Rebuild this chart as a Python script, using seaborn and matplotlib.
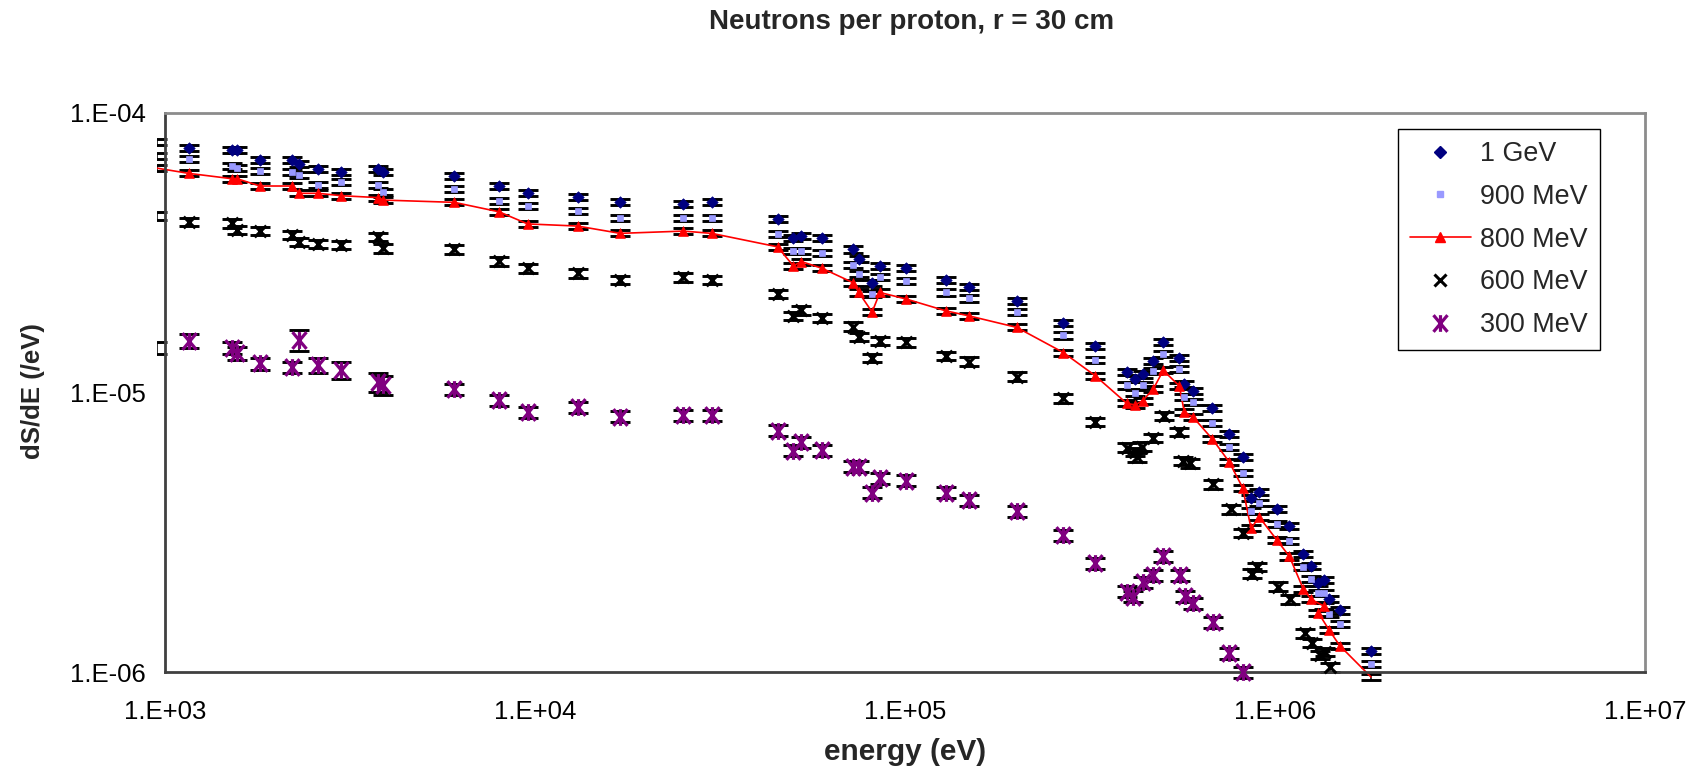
import matplotlib
matplotlib.use("Agg")
import matplotlib.pyplot as plt
from matplotlib.lines import Line2D
from matplotlib.path import Path
from matplotlib.patches import Rectangle
from matplotlib.ticker import NullLocator
import numpy as np
import seaborn as sns

# ---------------------------------------------------------------------------
# Neutron spectra (dS/dE per proton) at r = 30 cm, energies in eV
# ---------------------------------------------------------------------------
energy_main = [950, 1161, 1516, 1566, 1806, 2198, 2306, 2594, 2993, 3772, 3893,
               6050, 8000, 9550, 13030, 16990, 25180, 30030, 45240, 49890, 52500,
               59770, 72440, 74990, 81500, 85530, 100700, 128800, 148900, 200400,
               267900, 326200,
               397300, 418400, 439000, 469000, 499000, 551400, 568800, 599200,
               676900, 752300, 817800,
               861200, 907100, 1011000, 1094000, 1193000, 1251000, 1357000,
               1309000, 1402000, 1498000, 1817000]

gev1 = [7.9e-5, 7.51e-5, 7.37e-5, 7.37e-5, 6.79e-5, 6.79e-5, 6.57e-5, 6.29e-5,
        6.17e-5, 6.30e-5, 6.17e-5, 5.95e-5, 5.50e-5, 5.19e-5, 4.99e-5, 4.79e-5,
        4.71e-5, 4.79e-5, 4.18e-5, 3.58e-5, 3.64e-5, 3.58e-5, 3.25e-5, 3.00e-5,
        2.47e-5, 2.84e-5, 2.78e-5, 2.53e-5, 2.38e-5, 2.13e-5, 1.78e-5, 1.47e-5,
        1.18e-5, 1.115e-5, 1.16e-5, 1.30e-5, 1.52e-5, 1.33e-5, 1.07e-5, 1.01e-5,
        8.82e-6, 7.10e-6, 5.86e-6,
        4.19e-6, 4.42e-6, 3.82e-6, 3.34e-6, 2.64e-6, 2.40e-6, 2.13e-6, 2.09e-6,
        1.82e-6, 1.66e-6, 1.19e-6]

mev900 = [7.0e-5, 6.85e-5, 6.47e-5, 6.34e-5, 6.22e-5, 6.14e-5, 5.98e-5, 5.53e-5,
          5.68e-5, 5.53e-5, 5.23e-5, 5.33e-5, 4.84e-5, 4.65e-5, 4.47e-5, 4.22e-5,
          4.22e-5, 4.22e-5, 3.68e-5, 3.22e-5, 3.22e-5, 3.15e-5, 2.86e-5, 2.65e-5,
          2.26e-5, 2.60e-5, 2.51e-5, 2.28e-5, 2.17e-5, 1.94e-5, 1.60e-5, 1.31e-5,
          1.06e-5, 1.00e-5, 1.06e-5, 1.19e-5, 1.37e-5, 1.21e-5, 9.61e-6, 9.25e-6,
          7.80e-6, 6.40e-6, 5.16e-6,
          3.77e-6, 4.01e-6, 3.38e-6, 2.94e-6, 2.38e-6, 2.15e-6, 1.92e-6, 1.92e-6,
          1.61e-6, 1.49e-6, 1.07e-6]

mev800 = [6.35e-5, 6.08e-5, 5.82e-5, 5.82e-5, 5.48e-5, 5.48e-5, 5.16e-5, 5.16e-5,
          5.06e-5, 4.98e-5, 4.88e-5, 4.79e-5, 4.43e-5, 4.01e-5, 3.94e-5, 3.71e-5,
          3.78e-5, 3.71e-5, 3.32e-5, 2.84e-5, 2.94e-5, 2.78e-5, 2.47e-5, 2.28e-5,
          1.94e-5, 2.28e-5, 2.16e-5, 1.96e-5, 1.88e-5, 1.71e-5, 1.39e-5, 1.15e-5,
          9.15e-6, 9.02e-6, 9.35e-6, 1.03e-5, 1.20e-5, 1.055e-5, 8.50e-6, 8.19e-6,
          6.82e-6, 5.64e-6, 4.56e-6,
          3.27e-6, 3.58e-6, 2.97e-6, 2.59e-6, 1.98e-6, 1.82e-6, 1.72e-6, 1.63e-6,
          1.41e-6, 1.24e-6, 9.6e-7]

energy_600 = [950, 1161, 1516, 1566, 1806, 2198, 2306, 2594, 2993, 3772, 3893,
              6050, 8000, 9550, 13030, 16990, 25180, 30030, 45240, 49890, 52500,
              59770, 72440, 74990, 81500, 85530, 100700, 128800, 148900, 200400,
              267900, 326200,
              397300, 418400, 423600, 436300, 469000, 501200, 551400, 565200,
              589300, 677900, 759000, 820900, 865000, 892400, 1021000, 1098000,
              1205000, 1257000, 1323000, 1365000, 1408000]

mev600 = [4.28e-5, 4.08e-5, 4.03e-5, 3.81e-5, 3.79e-5, 3.66e-5, 3.46e-5, 3.40e-5,
          3.37e-5, 3.61e-5, 3.28e-5, 3.25e-5, 2.95e-5, 2.78e-5, 2.67e-5, 2.53e-5,
          2.58e-5, 2.53e-5, 2.25e-5, 1.88e-5, 1.97e-5, 1.85e-5, 1.72e-5, 1.58e-5,
          1.33e-5, 1.53e-5, 1.51e-5, 1.35e-5, 1.29e-5, 1.14e-5, 9.53e-6, 7.86e-6,
          6.35e-6, 6.14e-6, 5.86e-6, 6.40e-6, 6.89e-6, 8.26e-6, 7.24e-6, 5.70e-6,
          5.58e-6, 4.69e-6, 3.82e-6, 3.15e-6, 2.25e-6, 2.38e-6, 2.02e-6, 1.82e-6,
          1.375e-6, 1.27e-6, 1.15e-6, 1.18e-6, 1.04e-6]

energy_300 = [950, 1161, 1516, 1566, 1806, 2198, 2306, 2594, 2993, 3772, 3893,
              6050, 8000, 9550, 13030, 16990, 25180, 30030, 45240, 49890, 52500,
              59770, 72440, 74990, 81500, 85530, 100700, 128800, 148900, 200400,
              267900, 326200,
              397300, 414000, 440600, 467000, 499000, 553600, 571300, 601500,
              677900, 752300, 817800]

mev300 = [1.44e-5, 1.53e-5, 1.44e-5, 1.38e-5, 1.27e-5, 1.23e-5, 1.54e-5, 1.25e-5,
          1.20e-5, 1.09e-5, 1.06e-5, 1.03e-5, 9.40e-6, 8.50e-6, 8.85e-6, 8.19e-6,
          8.31e-6, 8.31e-6, 7.30e-6, 6.19e-6, 6.64e-6, 6.22e-6, 5.43e-6, 5.43e-6,
          4.38e-6, 4.93e-6, 4.83e-6, 4.38e-6, 4.12e-6, 3.77e-6, 3.09e-6, 2.45e-6,
          1.94e-6, 1.86e-6, 2.10e-6, 2.22e-6, 2.60e-6, 2.22e-6, 1.87e-6, 1.76e-6,
          1.51e-6, 1.17e-6, 1.00e-6]

# relative statistical errors
rel_err_1gev = 0.025
rel_err_900 = 0.025
rel_err_800 = 0.025
rel_err_600 = 0.035
rel_err_300 = [0.05, 0.06, 0.05, 0.05, 0.05, 0.045, 0.085, 0.06, 0.068, 0.077,
               0.077, 0.045, 0.045, 0.045, 0.045, 0.045, 0.045, 0.045, 0.045,
               0.045, 0.045, 0.045, 0.045, 0.045, 0.045, 0.045, 0.045, 0.045,
               0.045, 0.045, 0.045, 0.045, 0.045, 0.045, 0.045, 0.045, 0.045,
               0.045, 0.045, 0.045, 0.045, 0.045, 0.045]

series_labels = ["1 GeV", "900 MeV", "800 MeV", "600 MeV", "300 MeV"]
x_ticks = [1e3, 1e4, 1e5, 1e6, 1e7]
x_tick_labels = ["1.E+03", "1.E+04", "1.E+05", "1.E+06", "1.E+07"]
y_ticks = [1e-6, 1e-5, 1e-4]
y_tick_labels = ["1.E-06", "1.E-05", "1.E-04"]
title = "Neutrons per proton, r = 30 cm"
x_label = "energy (eV)"
y_label = "dS/dE (/eV)"

# ---------------------------------------------------------------------------
sns.set_style("white")
plt.rcParams["font.family"] = ["Liberation Sans", "DejaVu Sans"]

W, H = 1702, 774
fig = plt.figure(figsize=(W / 100, H / 100), dpi=100)
fig.patch.set_facecolor("white")
ax = fig.add_axes([165 / W, 1 - 672 / H, 1480 / W, 559 / H])
ax.set_xscale("log")
ax.set_yscale("log")
ax.set_xlim(1e3, 1e7)
ax.set_ylim(1e-6, 1e-4)

# error bars and the connecting line are allowed to spill a few pixels past the frame
spill = Rectangle((-8 / 1480, -9 / 559), 1 + 8 / 1480, 1 + 9 / 559,
                  transform=ax.transAxes)

asterisk = Path([(0, -0.5), (0, 0.5), (-0.42, -0.5), (0.42, 0.5),
                 (-0.42, 0.5), (0.42, -0.5)],
                [Path.MOVETO, Path.LINETO] * 3)

navy, lilac, red, purple = "#000080", "#9999FF", "#FF0000", "#800080"

series = [
    dict(label=series_labels[0], E=energy_main, v=gev1, err=rel_err_1gev,
         marker="D", s=34, color=navy, lw=0.5),
    dict(label=series_labels[1], E=energy_main, v=mev900, err=rel_err_900,
         marker="s", s=18, color=lilac, lw=0.5),
    dict(label=series_labels[2], E=energy_main, v=mev800, err=rel_err_800,
         marker="^", s=50, color=red, lw=0.5),
    dict(label=series_labels[3], E=energy_600, v=mev600, err=rel_err_600,
         marker="x", s=70, color="black", lw=2.2),
    dict(label=series_labels[4], E=energy_300, v=mev300, err=rel_err_300,
         marker=asterisk, s=145, color=purple, lw=2.3),
]

for sr in series:
    E = np.asarray(sr["E"], dtype=float)
    v = np.asarray(sr["v"], dtype=float)
    yerr = v * np.asarray(sr["err"], dtype=float)
    cont = ax.errorbar(E, v, yerr=yerr, fmt="none", ecolor="black",
                       elinewidth=1.1, capsize=7.2, capthick=2.1, zorder=2)
    for art in list(cont[1]) + list(cont[2]):
        art.set_clip_path(spill)

# thin red line through the 800 MeV points, in data order
sns.lineplot(x=energy_main, y=mev800, sort=False, estimator=None, color=red,
             linewidth=1.2, ax=ax, zorder=2.5, legend=False)
ax.lines[-1].set_clip_path(spill)

for sr in series:
    E = np.asarray(sr["E"], dtype=float)
    v = np.asarray(sr["v"], dtype=float)
    inside = (E >= 1e3) & (E <= 1e7) & (v >= 1e-6) & (v <= 1e-4)
    sns.scatterplot(x=E[inside], y=v[inside], marker=sr["marker"], s=sr["s"],
                    color=sr["color"], edgecolor=sr["color"],
                    linewidth=sr["lw"], ax=ax, zorder=3, clip_on=False,
                    legend=False)

ax.set_xticks(x_ticks)
ax.set_xticklabels(x_tick_labels)
ax.set_yticks(y_ticks)
ax.set_yticklabels(y_tick_labels)
ax.xaxis.set_minor_locator(NullLocator())
ax.yaxis.set_minor_locator(NullLocator())
ax.set_xlim(1e3, 1e7)
ax.set_ylim(1e-6, 1e-4)
ax.tick_params(axis="both", which="major", direction="out", length=7,
               width=1.3, color="#404040", labelsize=18.5, labelcolor="black")
ax.tick_params(axis="x", pad=13)
ax.tick_params(axis="y", pad=7)
ax.set_xlabel("")
ax.set_ylabel("")

for side in ("left", "bottom"):
    ax.spines[side].set_color("#404040")
    ax.spines[side].set_linewidth(2.0)
for side in ("top", "right"):
    ax.spines[side].set_color("#8c8c8c")
    ax.spines[side].set_linewidth(2.0)

handles = [
    Line2D([], [], ls="none", marker="D", ms=5.8, color=navy),
    Line2D([], [], ls="none", marker="s", ms=4.2, color=lilac),
    Line2D([], [], ls="-", lw=1.2, marker="^", ms=7.0, color=red),
    Line2D([], [], ls="none", marker="x", ms=8.4, mew=2.2, color="black"),
    Line2D([], [], ls="none", marker=asterisk, ms=12, mew=2.3, color=purple),
]
leg = ax.legend(handles, series_labels, loc="upper right",
                bbox_to_anchor=(0.9696, 0.9714), frameon=True, fancybox=False,
                edgecolor="black", framealpha=1, fontsize=19.4,
                handlelength=2.26, handletextpad=0.35, borderpad=0.45,
                labelspacing=0.62, borderaxespad=0)
leg.get_frame().set_linewidth(1.0)

fig.text(912 / W, 1 - 22 / H, title, ha="center", va="center",
         fontsize=20, fontweight="bold")
fig.text(905 / W, 1 - 752 / H, x_label, ha="center", va="center",
         fontsize=21.5, fontweight="bold")
fig.text(33 / W, 1 - 391 / H, y_label, ha="center", va="center",
         rotation=90, fontsize=18.5, fontweight="bold")

fig.savefig("out.png", dpi=100, facecolor="white")
